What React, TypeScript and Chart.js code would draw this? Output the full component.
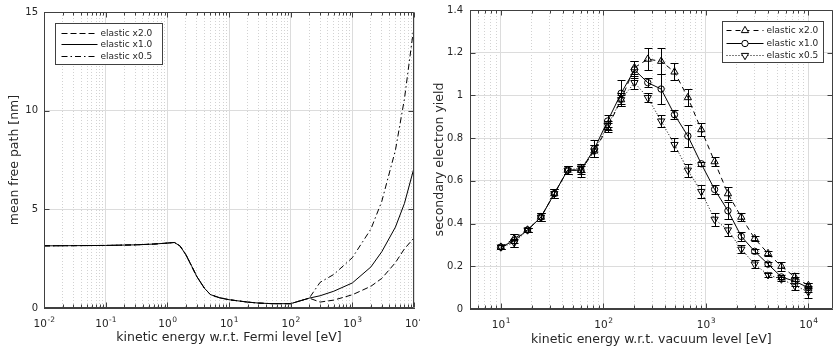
import React, { useEffect, useRef } from 'react';
import { Chart, registerables } from 'chart.js';

Chart.register(...registerables);

// ---------- Left chart data (mean free path) ----------
const fermiEnergy = [0.01, 0.03, 0.1, 0.3, 0.6, 1.0, 1.3, 1.6, 2, 2.5, 3, 4, 5, 7, 10, 20, 30, 50, 100, 200, 300, 500, 1000, 2000, 3000, 5000, 7000, 10000];
const mfpElastic2 = [3.15, 3.16, 3.17, 3.2, 3.24, 3.29, 3.32, 3.15, 2.7, 2.1, 1.6, 1.0, 0.68, 0.52, 0.42, 0.3, 0.25, 0.22, 0.22, 0.5, 0.3, 0.4, 0.67, 1.1, 1.5, 2.3, 3.0, 3.55];
const mfpElastic1 = [3.15, 3.16, 3.17, 3.2, 3.24, 3.29, 3.32, 3.15, 2.7, 2.1, 1.6, 1.0, 0.68, 0.52, 0.42, 0.3, 0.25, 0.22, 0.22, 0.5, 0.62, 0.85, 1.27, 2.08, 2.85, 4.1, 5.3, 7.1];
const mfpElastic05 = [3.15, 3.16, 3.17, 3.2, 3.24, 3.29, 3.32, 3.15, 2.7, 2.1, 1.6, 1.0, 0.68, 0.52, 0.42, 0.3, 0.25, 0.22, 0.22, 0.5, 1.3, 1.7, 2.55, 4.0, 5.4, 8.0, 10.6, 14.3];

const leftXMajor = [0.01, 0.1, 1, 10, 100, 1000, 10000];
const leftXExponents = ['-2', '-1', '0', '1', '2', '3', '4'];
const leftYTicks = [0, 5, 10, 15];
const leftYLabels = ['0', '5', '10', '15'];

// ---------- Right chart data (secondary electron yield) ----------
const vacuumEnergy = [10, 13.5, 18.2, 24.6, 33.2, 44.8, 60.5, 81.7, 110, 149, 201, 271, 366, 494, 667, 901, 1216, 1641, 2216, 2991, 4038, 5451, 7356, 10000];
const seyElastic2 = [0.29, 0.33, 0.37, 0.43, 0.54, 0.65, 0.65, 0.74, 0.85, 0.98, 1.13, 1.17, 1.16, 1.11, 0.99, 0.84, 0.69, 0.54, 0.43, 0.33, 0.26, 0.20, 0.15, 0.11];
const seyElastic1 = [0.29, 0.32, 0.37, 0.43, 0.54, 0.65, 0.65, 0.75, 0.88, 1.01, 1.12, 1.06, 1.03, 0.91, 0.81, 0.68, 0.56, 0.46, 0.34, 0.27, 0.21, 0.15, 0.13, 0.10];
const seyElastic05 = [0.29, 0.31, 0.37, 0.43, 0.54, 0.65, 0.66, 0.74, 0.86, 0.98, 1.06, 0.99, 0.88, 0.77, 0.65, 0.55, 0.42, 0.37, 0.28, 0.21, 0.16, 0.14, 0.11, 0.08];
const errElastic2 = [0.01, 0.02, 0.01, 0.02, 0.02, 0.02, 0.02, 0.03, 0.02, 0.03, 0.03, 0.05, 0.06, 0.04, 0.04, 0.03, 0.02, 0.03, 0.02, 0.01, 0.01, 0.02, 0.02, 0.01];
const errElastic1 = [0.01, 0.03, 0.01, 0.02, 0.02, 0.02, 0.03, 0.04, 0.03, 0.06, 0.04, 0.02, 0.07, 0.02, 0.05, 0.01, 0.02, 0.04, 0.02, 0.01, 0.01, 0.01, 0.02, 0.02];
const errElastic05 = [0.01, 0.02, 0.01, 0.02, 0.02, 0.02, 0.02, 0.03, 0.02, 0.02, 0.03, 0.02, 0.03, 0.03, 0.03, 0.03, 0.03, 0.03, 0.02, 0.02, 0.01, 0.01, 0.02, 0.03];

const rightXMajor = [10, 100, 1000, 10000];
const rightXExponents = ['1', '2', '3', '4'];
const rightYTicks = [0, 0.2, 0.4, 0.6, 0.8, 1.0, 1.2, 1.4];
const rightYLabels = ['0', '0.2', '0.4', '0.6', '0.8', '1', '1.2', '1.4'];

const seriesLabels = ['elastic x2.0', 'elastic x1.0', 'elastic x0.5'];

// ---------- styles ----------
const FONT = 'DejaVu Sans';
const TEXT = '#262626';
const AXIS = '#404040';
const GRID_MAJOR = '#dcdcdc';
const GRID_MINOR = '#d2d2d2';

function logTickValues(min: number, max: number): number[] {
  const out: number[] = [];
  const k0 = Math.floor(Math.log10(min));
  const k1 = Math.ceil(Math.log10(max));
  for (let k = k0; k <= k1; k++) {
    for (let d = 1; d <= 9; d++) {
      const v = Number((d * Math.pow(10, k)).toPrecision(6));
      if (v >= min * 0.9999 && v <= max * 1.0001) out.push(v);
    }
  }
  return out;
}

function isIn(list: number[], v: number) {
  return list.some((m) => Math.abs(m - v) <= Math.abs(m) * 1e-6 + 1e-9);
}

function labelFor(list: number[], labels: string[], v: number) {
  const i = list.findIndex((m) => Math.abs(m - v) <= Math.abs(m) * 1e-6 + 1e-9);
  return i >= 0 ? labels[i] : '';
}

function logXScale(min: number, max: number, majors: number[], height: number, title: string, titlePad: number) {
  const vals = logTickValues(min, max);
  return {
    type: 'logarithmic',
    min,
    max,
    afterBuildTicks: (s: any) => {
      s.ticks = vals.map((v) => ({ value: v, major: isIn(majors, v) }));
    },
    afterFit: (s: any) => {
      s.height = height;
      s.paddingLeft = 0;
      s.paddingRight = 0;
    },
    ticks: { display: false, autoSkip: false, maxRotation: 0, minRotation: 0 },
    grid: {
      drawTicks: false,
      lineWidth: 1,
      color: (c: any) => (c.tick && isIn(majors, c.tick.value) ? GRID_MAJOR : GRID_MINOR),
    },
    border: {
      display: true,
      color: AXIS,
      width: 1,
      dash: (c: any) => (c.tick && !isIn(majors, c.tick.value) ? [1, 2] : []),
    },
    title: {
      display: true,
      text: title,
      color: TEXT,
      font: { family: FONT, size: 12.5 },
      padding: { top: 0, bottom: titlePad },
    },
  };
}

function linYScale(min: number, max: number, ticks: number[], labels: string[], width: number, title: string, titlePad: number, tickPad: number) {
  return {
    type: 'linear',
    min,
    max,
    afterBuildTicks: (s: any) => {
      s.ticks = ticks.map((v) => ({ value: v, major: true }));
    },
    afterFit: (s: any) => {
      s.width = width;
      s.paddingTop = 0;
      s.paddingBottom = 0;
    },
    ticks: {
      autoSkip: false,
      padding: tickPad,
      color: TEXT,
      font: { family: FONT, size: 10 },
      callback: (v: any) => labelFor(ticks, labels, Number(v)),
    },
    grid: { drawTicks: false, lineWidth: 1, color: GRID_MAJOR },
    border: { display: true, color: AXIS, width: 1 },
    title: {
      display: true,
      text: title,
      color: TEXT,
      font: { family: FONT, size: 12.5 },
      padding: { top: titlePad, bottom: 0 },
    },
  };
}

// "10" with raised exponent under each major log tick
const powerLabelPlugin = {
  id: 'powerLabels',
  afterDraw(chart: any, _a: any, opts: any) {
    const { ctx, chartArea: a, scales } = chart;
    const xs = scales.x;
    const majors: number[] = opts.majors;
    const exps: string[] = opts.exponents;
    ctx.save();
    ctx.fillStyle = TEXT;
    ctx.textBaseline = 'alphabetic';
    ctx.textAlign = 'left';
    majors.forEach((v, i) => {
      const px = xs.getPixelForValue(v);
      ctx.font = `${opts.baseSize}px "${FONT}"`;
      const wb = ctx.measureText('10').width;
      ctx.font = `${opts.expSize}px "${FONT}"`;
      const we = ctx.measureText(exps[i]).width;
      const x0 = px - (wb + we) / 2;
      const base = a.bottom + opts.baseline;
      ctx.font = `${opts.baseSize}px "${FONT}"`;
      ctx.fillText('10', x0, base);
      ctx.font = `${opts.expSize}px "${FONT}"`;
      ctx.fillText(exps[i], x0 + wb + 0.5, base - opts.raise);
    });
    ctx.restore();
  },
};

// Box + inward tick marks
const framePlugin = {
  id: 'frame',
  afterDraw(chart: any, _a: any, opts: any) {
    const { ctx, chartArea: a, scales } = chart;
    const L = Math.round(a.left) + 0.5;
    const R = Math.round(a.right) - 0.5;
    const T = Math.round(a.top) + 0.5;
    const B = Math.round(a.bottom) - 0.5;
    ctx.save();
    ctx.strokeStyle = AXIS;
    ctx.lineWidth = 1;
    ctx.setLineDash([]);
    ctx.beginPath();
    ctx.rect(L, T, R - L, B - T);
    ctx.stroke();
    const xs = scales.x;
    const majors: number[] = opts.xMajors || [];
    ctx.beginPath();
    xs.ticks.forEach((t: any) => {
      const px = Math.round(xs.getPixelForValue(t.value)) + 0.5;
      const len = isIn(majors, t.value) ? 5 : 3;
      ctx.moveTo(px, B);
      ctx.lineTo(px, B - len);
      ctx.moveTo(px, T);
      ctx.lineTo(px, T + len);
    });
    const ys = scales.y;
    ys.ticks.forEach((t: any) => {
      const py = Math.round(ys.getPixelForValue(t.value)) + 0.5;
      ctx.moveTo(L, py);
      ctx.lineTo(L + 5, py);
      ctx.moveTo(R, py);
      ctx.lineTo(R - 5, py);
    });
    ctx.stroke();
    ctx.restore();
  },
};

const errorBarPlugin = {
  id: 'errbars',
  afterDatasetsDraw(chart: any) {
    const { ctx, scales } = chart;
    const xs = scales.x;
    const ys = scales.y;
    ctx.save();
    ctx.strokeStyle = '#000';
    ctx.lineWidth = 1;
    ctx.setLineDash([]);
    chart.data.datasets.forEach((ds: any) => {
      if (!ds.errors) return;
      ds.data.forEach((p: any, i: number) => {
        const e = ds.errors[i];
        const px = Math.round(xs.getPixelForValue(p.x)) + 0.5;
        const y1 = Math.round(ys.getPixelForValue(p.y - e)) + 0.5;
        const y2 = Math.round(ys.getPixelForValue(p.y + e)) + 0.5;
        ctx.beginPath();
        ctx.moveTo(px, y1);
        ctx.lineTo(px, y2);
        ctx.moveTo(px - 4, y1);
        ctx.lineTo(px + 4, y1);
        ctx.moveTo(px - 4, y2);
        ctx.lineTo(px + 4, y2);
        ctx.stroke();
      });
    });
    ctx.restore();
  },
};

function drawMarker(ctx: CanvasRenderingContext2D, style: string, rotationDeg: number, r: number, x: number, y: number) {
  ctx.beginPath();
  if (style === 'circle') {
    ctx.arc(x, y, r, 0, Math.PI * 2);
  } else {
    let rad = (rotationDeg * Math.PI) / 180;
    ctx.moveTo(x + Math.sin(rad) * r, y - Math.cos(rad) * r);
    rad += (2 * Math.PI) / 3;
    ctx.lineTo(x + Math.sin(rad) * r, y - Math.cos(rad) * r);
    rad += (2 * Math.PI) / 3;
    ctx.lineTo(x + Math.sin(rad) * r, y - Math.cos(rad) * r);
    ctx.closePath();
  }
  ctx.fillStyle = '#fff';
  ctx.fill();
  ctx.strokeStyle = '#000';
  ctx.lineWidth = 1;
  ctx.stroke();
}

const boxLegendPlugin = {
  id: 'boxLegend',
  afterDraw(chart: any, _a: any, opts: any) {
    const { ctx, chartArea: a } = chart;
    const w = opts.width;
    const h = opts.height;
    const x0 = opts.align === 'right' ? Math.round(a.right - opts.offsetX - w) + 0.5 : Math.round(a.left + opts.offsetX) + 0.5;
    const y0 = Math.round(a.top + opts.offsetY) + 0.5;
    ctx.save();
    ctx.fillStyle = '#fff';
    ctx.fillRect(x0, y0, w, h);
    ctx.strokeStyle = AXIS;
    ctx.lineWidth = 1;
    ctx.setLineDash([]);
    ctx.strokeRect(x0, y0, w, h);
    ctx.font = `${opts.fontSize}px "${FONT}"`;
    ctx.textBaseline = 'middle';
    ctx.textAlign = 'left';
    chart.data.datasets.forEach((ds: any, i: number) => {
      const cy = Math.round(y0 + opts.rowTop + i * opts.rowGap) + 0.5;
      const sx0 = x0 + opts.sampleStart;
      const sx1 = x0 + opts.sampleEnd;
      ctx.strokeStyle = '#000';
      ctx.lineWidth = 1;
      ctx.setLineDash(ds.borderDash || []);
      ctx.beginPath();
      ctx.moveTo(sx0, cy);
      ctx.lineTo(sx1, cy);
      ctx.stroke();
      ctx.setLineDash([]);
      if (ds.pointRadius && ds.pointRadius > 0) {
        const mx = Math.round((sx0 + sx1) / 2);
        drawMarker(ctx, ds.pointStyle, ds.pointRotation || 0, ds.pointRadius, mx, cy);
      }
      ctx.fillStyle = TEXT;
      ctx.fillText(ds.label, x0 + opts.textX, cy);
    });
    ctx.restore();
  },
};

function pts(xs: number[], ys: number[]) {
  return xs.map((x, i) => ({ x, y: ys[i] }));
}

export default function App() {
  const leftRef = useRef<HTMLCanvasElement>(null);
  const rightRef = useRef<HTMLCanvasElement>(null);

  useEffect(() => {
    document.body.style.margin = '0';
    const lineBase = { borderColor: '#000', borderWidth: 1, pointRadius: 0, tension: 0, fill: false };
    const left = new Chart(leftRef.current as HTMLCanvasElement, {
      type: 'line',
      data: {
        datasets: [
          { ...lineBase, label: seriesLabels[0], data: pts(fermiEnergy, mfpElastic2), borderDash: [6, 3] },
          { ...lineBase, label: seriesLabels[1], data: pts(fermiEnergy, mfpElastic1), borderDash: [] },
          { ...lineBase, label: seriesLabels[2], data: pts(fermiEnergy, mfpElastic05), borderDash: [6, 3, 1.5, 3] },
        ],
      } as any,
      options: {
        responsive: false,
        animation: false,
        events: [],
        layout: { padding: { left: 0, right: 6, top: 12, bottom: 0 } },
        scales: {
          x: logXScale(0.01, 10000, leftXMajor, 43, 'kinetic energy w.r.t. Fermi level [eV]', 5.5),
          y: linYScale(0, 15, leftYTicks, leftYLabels, 44, 'mean free path [nm]', 7.5, 6),
        },
        plugins: {
          legend: { display: false },
          tooltip: { enabled: false },
          frame: { xMajors: leftXMajor },
          powerLabels: { majors: leftXMajor, exponents: leftXExponents, baseSize: 10.5, expSize: 7.5, baseline: 19, raise: 5 },
          boxLegend: { align: 'left', offsetX: 11, offsetY: 11, width: 107, height: 41, rowTop: 9, rowGap: 11.5, sampleStart: 6, sampleEnd: 42, textX: 45, fontSize: 9 },
        },
      } as any,
      plugins: [framePlugin, powerLabelPlugin, boxLegendPlugin],
    });

    const markerBase = { borderColor: '#000', borderWidth: 1, tension: 0, fill: false, pointBorderColor: '#000', pointBackgroundColor: 'rgba(0,0,0,0)', pointBorderWidth: 1 };
    const right = new Chart(rightRef.current as HTMLCanvasElement, {
      type: 'line',
      data: {
        datasets: [
          { ...markerBase, label: seriesLabels[0], data: pts(vacuumEnergy, seyElastic2), errors: errElastic2, borderDash: [5, 4], pointStyle: 'triangle', pointRadius: 4.2, pointRotation: 0 },
          { ...markerBase, label: seriesLabels[1], data: pts(vacuumEnergy, seyElastic1), errors: errElastic1, borderDash: [], pointStyle: 'circle', pointRadius: 3.2 },
          { ...markerBase, label: seriesLabels[2], data: pts(vacuumEnergy, seyElastic05), errors: errElastic05, borderDash: [1, 2], pointStyle: 'triangle', pointRadius: 4.2, pointRotation: 180 },
        ],
      } as any,
      options: {
        responsive: false,
        animation: false,
        events: [],
        layout: { padding: { left: 0, right: 1, top: 10, bottom: 0 } },
        scales: {
          x: logXScale(5, 17300, rightXMajor, 42, 'kinetic energy w.r.t. vacuum level [eV]', 3.5),
          y: linYScale(0, 1.4, rightYTicks, rightYLabels, 50, 'secondary electron yield', 12.5, 7),
        },
        plugins: {
          legend: { display: false },
          tooltip: { enabled: false },
          frame: { xMajors: rightXMajor },
          powerLabels: { majors: rightXMajor, exponents: rightXExponents, baseSize: 10.5, expSize: 7.5, baseline: 19, raise: 5 },
          boxLegend: { align: 'right', offsetX: 10, offsetY: 11, width: 101, height: 41, rowTop: 8.5, rowGap: 12.5, sampleStart: 4, sampleEnd: 41, textX: 44, fontSize: 9 },
        },
      } as any,
      plugins: [framePlugin, errorBarPlugin, powerLabelPlugin, boxLegendPlugin],
    });

    return () => {
      left.destroy();
      right.destroy();
    };
  }, []);

  return (
    <div style={{ position: 'relative', width: 838, height: 351, background: '#fff', overflow: 'hidden' }}>
      <canvas ref={leftRef} width={420} height={351} style={{ position: 'absolute', left: 0, top: 0, width: 420, height: 351 }} />
      <canvas ref={rightRef} width={418} height={351} style={{ position: 'absolute', left: 420, top: 0, width: 418, height: 351 }} />
    </div>
  );
}
